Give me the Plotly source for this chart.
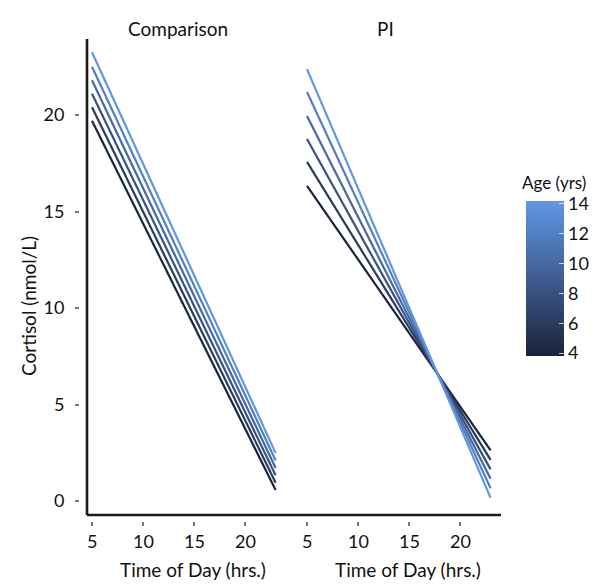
import plotly.graph_objects as go

# ---- data ----
ages = [4, 6, 8, 10, 12, 14]
time_span = [5, 23]
comparison_start = [19.7, 20.4, 21.1, 21.8, 22.5, 23.25]
comparison_end = [0.57, 0.95, 1.33, 1.71, 2.10, 2.48]
pi_start = [16.33, 17.57, 18.76, 19.95, 21.19, 22.38]
pi_end = [2.62, 2.13, 1.64, 1.15, 0.66, 0.16]
panel_titles = ["Comparison", "PI"]
x_title = "Time of Day (hrs.)"
y_title = "Cortisol (nmol/L)"
x_ticks = [5, 10, 15, 20]
y_ticks = [0, 5, 10, 15, 20]
age_ticks = [4, 6, 8, 10, 12, 14]

# ---- style ----
FONT = "Lato"
TXT = "#111"
LOW = (0x1a, 0x22, 0x3a)
HIGH = (0x62, 0x98, 0xe6)
CMIN, CMAX = 3.8, 14.2


def age_color(a):
    t = (a - CMIN) / (CMAX - CMIN)
    r, g, b = (round(LOW[i] + (HIGH[i] - LOW[i]) * t) for i in range(3))
    return f"rgb({r},{g},{b})"


W, H = 602, 585
ML, MR, MT, MB = 72, 109, 31, 72
PW = W - ML - MR
PH = H - MT - MB


def px_x(p):
    return (p - ML) / PW


def px_y(p):
    return (H - MB - p) / PH


fig = go.Figure()

panels = [("x", "y", comparison_start, comparison_end),
          ("x2", "y2", pi_start, pi_end)]
for xa, ya, starts, ends in panels:
    for a, s, e in zip(ages, starts, ends):
        fig.add_trace(go.Scatter(
            x=time_span, y=[s, e], mode="lines", xaxis=xa, yaxis=ya,
            line=dict(color=age_color(a), width=2.2),
            showlegend=False, hoverinfo="skip"))

# colorbar carrier
fig.add_trace(go.Scatter(
    x=[None], y=[None], mode="markers", xaxis="x2", yaxis="y2",
    showlegend=False,
    marker=dict(
        color=[CMIN], cmin=CMIN, cmax=CMAX,
        colorscale=[[0, age_color(CMIN)], [1, age_color(CMAX)]],
        showscale=True,
        colorbar=dict(
            tickvals=age_ticks, ticktext=[str(t) for t in age_ticks],
            ticks="inside", tickcolor="rgba(255,255,255,0.75)", ticklen=5,
            tickfont=dict(family=FONT, size=18, color=TXT),
            outlinewidth=0, thickness=38,
            lenmode="pixels", len=155,
            x=px_x(518), xanchor="left",
            y=px_y(270.5), yanchor="middle", ypad=0, xpad=0,
        ))))

fig.add_annotation(text="Age (yrs)", xref="paper", yref="paper",
                   x=px_x(513), y=px_y(186),
                   xanchor="left", yanchor="bottom", showarrow=False,
                   borderpad=0, font=dict(family=FONT, size=17, color=TXT))

gap = 7
pw = (PW - gap) / 2
px_per_hr = 10.2
x1_lo = 5 - (84 - ML) / px_per_hr
x2_lo = 5 - (299 - (ML + pw + gap)) / px_per_hr

y_px_per = 19.3
y0_px = 493
y_lo = -(MT + PH - y0_px) / y_px_per
y_hi = (y0_px - MT) / y_px_per

xcommon = dict(tickvals=x_ticks, ticks="outside", ticklen=4, tickwidth=1.5,
               tickcolor="#777", showline=False, showgrid=False, zeroline=False,
               showticklabels=False)
fig.update_layout(
    width=W, height=H,
    margin=dict(l=ML, r=MR, t=MT, b=MB),
    paper_bgcolor="white", plot_bgcolor="white",
    xaxis=dict(domain=[0, pw / PW], range=[x1_lo, x1_lo + pw / px_per_hr],
               anchor="y", **xcommon),
    xaxis2=dict(domain=[(pw + gap) / PW, 1],
                range=[x2_lo, x2_lo + pw / px_per_hr], anchor="y2", **xcommon),
    yaxis=dict(range=[y_lo, y_hi], tickvals=y_ticks, ticks="outside",
               ticklen=4, tickwidth=1.5, tickcolor="#777", showline=False,
               showgrid=False, zeroline=False, anchor="x",
               ticklabelstandoff=7,
               tickfont=dict(family=FONT, size=18, color=TXT)),
    yaxis2=dict(range=[y_lo, y_hi], showticklabels=False, ticks="",
                showline=False, showgrid=False, zeroline=False, anchor="x2",
                matches="y"),
    showlegend=False,
)

# x tick labels and axis titles placed on the axes' scales
for xref, xc in (("x", 185), ("x2", 400)):
    for t in x_ticks:
        fig.add_annotation(text=str(t), xref=xref, yref="paper", x=t,
                           y=px_y(533), xanchor="center", yanchor="middle",
                           showarrow=False, borderpad=0,
                           font=dict(family=FONT, size=18, color=TXT))
    fig.add_annotation(text=x_title, xref="paper", yref="paper",
                       x=px_x(xc), y=px_y(561), xanchor="center",
                       yanchor="middle", showarrow=False, borderpad=0,
                       font=dict(family=FONT, size=19, color=TXT))

fig.add_annotation(text=y_title, xref="paper", yref="paper", textangle=-90,
                   x=px_x(20), y=px_y(298), xanchor="center",
                   yanchor="middle", showarrow=False, borderpad=0,
                   font=dict(family=FONT, size=19, color=TXT))

# axis lines, drawn slightly inside the plot edges
ax_x = px_x(79)
ax_y = px_y(507)
fig.add_shape(type="line", xref="paper", yref="paper", x0=ax_x, x1=ax_x,
              y0=ax_y, y1=1, line=dict(color="#1a1a1a", width=2.6))
fig.add_shape(type="line", xref="paper", yref="paper", x0=ax_x, x1=1,
              y0=ax_y, y1=ax_y, line=dict(color="#1a1a1a", width=2.6))

# panel titles
for t, xc in zip(panel_titles, (170, 377)):
    fig.add_annotation(text=t, xref="paper", yref="paper",
                       x=px_x(xc), y=px_y(20), xanchor="center",
                       yanchor="middle", showarrow=False, borderpad=0,
                       font=dict(family=FONT, size=19, color=TXT))

fig.write_html("out.html")
